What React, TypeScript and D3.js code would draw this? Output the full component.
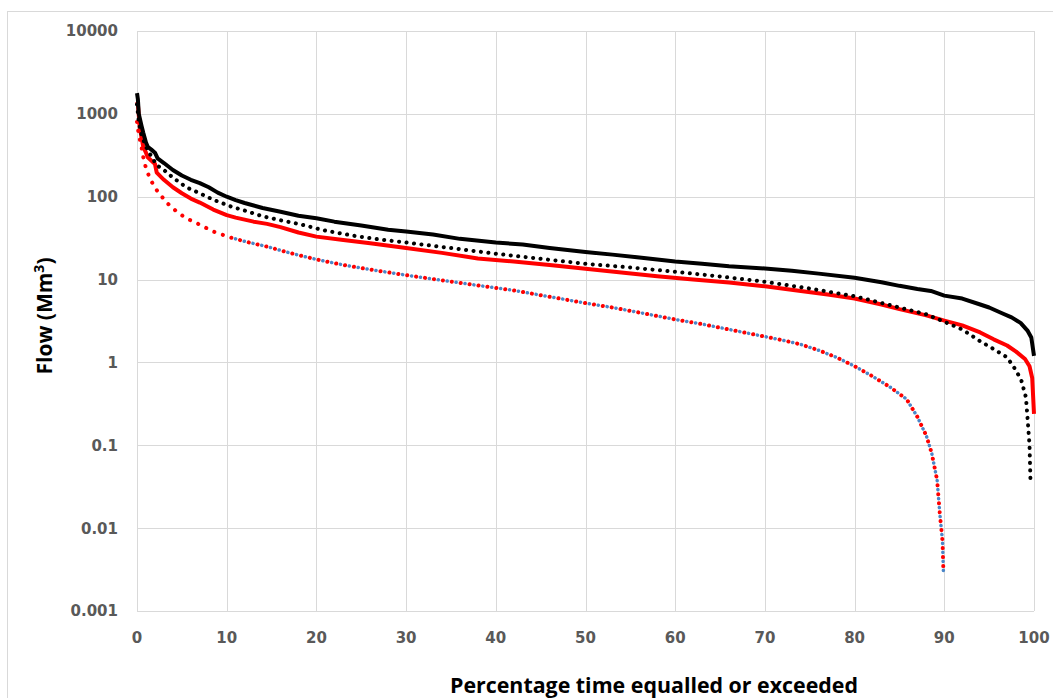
import React from "react";
import * as d3 from "d3";

// flow duration curves: [percentage time equalled or exceeded, flow Mm3]
const blackSolid: [number, number][] = [
  [0, 1780], [0.1, 1500], [0.2, 1000], [0.5, 720], [0.7, 590], [1.0, 450], [1.2, 400],
  [1.6, 370], [2.0, 340], [2.3, 290], [3.0, 255], [4.0, 210], [5.0, 180], [6.0, 160],
  [7.0, 146], [8.0, 130], [9.0, 112], [10, 100], [11, 91], [12, 84], [14, 73], [16, 66],
  [18, 59], [20, 55], [22, 50], [25, 45], [28, 40], [30, 38], [33, 35], [36, 31], [40, 28],
  [43, 26.5], [46, 24], [50, 21.5], [53, 20], [56, 18.5], [60, 16.5], [63, 15.5], [66, 14.5],
  [70, 13.6], [73, 12.8], [76, 11.8], [80, 10.5], [83, 9.3], [85, 8.4], [87, 7.7], [88.5, 7.3],
  [90, 6.4], [92, 5.9], [94, 5.0], [95, 4.6], [96.5, 3.9], [97.5, 3.5], [98.5, 3.0],
  [99.3, 2.4], [99.7, 2.0], [100, 1.2],
];

const blackDotted: [number, number][] = [
  [0, 1300], [0.2, 800], [0.5, 560], [1.0, 400], [1.5, 320], [2.2, 240], [3.0, 210],
  [4.0, 170], [5.5, 130], [7.0, 110], [8.5, 92], [10.5, 76], [12, 68], [14, 58], [16, 52],
  [18, 47], [21, 39], [24, 34], [27, 30.5], [30, 28], [35, 24], [40, 20.5], [45, 17.8],
  [50, 15.5], [55, 14], [60, 12.4], [65, 10.9], [70, 9.4], [75, 7.8], [80, 6.3], [85, 4.6],
  [88, 3.8], [90, 3.1], [92, 2.5], [94, 1.8], [95.5, 1.45], [97, 1.15], [98, 0.8],
  [98.6, 0.6], [99.1, 0.38], [99.3, 0.2], [99.5, 0.1], [99.6, 0.04],
];

const redSolid: [number, number][] = [
  [0, 1400], [0.1, 1300], [0.3, 700], [0.5, 520], [0.7, 400], [1.0, 340], [1.2, 300],
  [1.8, 260], [2.0, 250], [2.2, 195], [3.0, 160], [4.0, 130], [5.0, 110], [6.0, 95],
  [7.0, 85], [8.5, 70], [10, 60], [11, 56], [13, 50], [14.5, 47], [16, 43], [18, 37],
  [20, 33], [23, 30], [26, 27.5], [30, 24], [34, 21], [38, 18], [42, 16.5], [46, 15],
  [50, 13.5], [54, 12.2], [58, 11], [62, 10], [66, 9.2], [70, 8.3], [74, 7.3], [77, 6.6],
  [80, 5.9], [83, 5.0], [85, 4.4], [88, 3.7], [90, 3.2], [92, 2.8], [94, 2.3], [95.5, 1.9],
  [97, 1.6], [98, 1.35], [99, 1.1], [99.5, 0.9], [99.8, 0.65], [100, 0.24],
];

const redDotted: [number, number][] = [
  [0, 800], [0.2, 560], [0.5, 400], [0.7, 300], [1.0, 220], [1.5, 160], [2.2, 120],
  [3.3, 85], [4.5, 65], [5.5, 55], [7.0, 46], [8.5, 38], [10.5, 32], [12.5, 28],
  [14.5, 25], [17, 21], [20, 17.5], [23, 15], [26, 13.2], [30, 11.3], [34, 9.8], [38, 8.5],
  [42, 7.4], [46, 6.2], [50, 5.2], [53, 4.6], [56, 4.0], [60, 3.3], [63, 2.9], [66, 2.5],
  [70, 2.05], [72, 1.85], [74, 1.65], [76, 1.4], [78, 1.15], [80, 0.9], [82, 0.68],
  [84, 0.5], [85.8, 0.36], [87, 0.22], [88, 0.13], [88.6, 0.08], [89.2, 0.038],
  [89.5, 0.015], [89.8, 0.007], [89.9, 0.003],
];

// the blue series sits under the red dotted one and shows through from ~10%
const blueDotted = redDotted.filter((d) => d[0] >= 10);

const xTicks = [0, 10, 20, 30, 40, 50, 60, 70, 80, 90, 100];
const yTicks = [0.001, 0.01, 0.1, 1, 10, 100, 1000, 10000];
const yTickLabels = ["0.001", "0.01", "0.1", "1", "10", "100", "1000", "10000"];

const W = 1053;
const H = 698;
const left = 137;
const right = 1034;
const top = 31;
const bottom = 611;

export default function App() {
  const x = d3.scaleLinear().domain([0, 100]).range([left, right]);
  const y = d3.scaleLog().domain([0.001, 10000]).range([bottom, top]);
  const line = d3
    .line<[number, number]>()
    .x((d) => x(d[0]))
    .y((d) => y(d[1]));

  const labelFont = "'DejaVu Sans', sans-serif";
  const grid = "#d9d9d9";

  return (
    <svg
      width={W}
      height={H}
      style={{ position: "absolute", left: 0, top: 0, background: "#fff" }}
    >
      {/* chart border */}
      <rect x={7.5} y={11.5} width={1100} height={800} fill="none" stroke={grid} />

      {/* gridlines */}
      {yTicks.map((t) => (
        <line key={"h" + t} x1={left} x2={right} y1={Math.round(y(t)) + 0.5} y2={Math.round(y(t)) + 0.5} stroke={grid} />
      ))}
      {xTicks.map((t) => (
        <line key={"v" + t} x1={Math.round(x(t)) + 0.5} x2={Math.round(x(t)) + 0.5} y1={top} y2={bottom} stroke={grid} />
      ))}

      {/* y tick labels */}
      {yTicks.map((t, i) => (
        <text
          key={"yl" + t}
          x={118}
          y={y(t)}
          dy="0.36em"
          textAnchor="end"
          fontFamily={labelFont}
          fontWeight="bold"
          fontSize={15}
          fill="#595959"
        >
          {yTickLabels[i]}
        </text>
      ))}

      {/* x tick labels */}
      {xTicks.map((t) => (
        <text
          key={"xl" + t}
          x={x(t)}
          y={643}
          textAnchor="middle"
          fontFamily={labelFont}
          fontWeight="bold"
          fontSize={15}
          fill="#595959"
        >
          {t}
        </text>
      ))}

      {/* series */}
      <path
        d={line(blueDotted) ?? ""}
        fill="none"
        stroke="#4a86c8"
        strokeWidth={3.5}
        strokeLinecap="round"
        strokeDasharray="0.1 8.9"
        strokeDashoffset={-4.5}
      />
      <path
        d={line(redDotted) ?? ""}
        fill="none"
        stroke="#ff0000"
        strokeWidth={4}
        strokeLinecap="round"
        strokeDasharray="0.1 8.9"
      />
      <path
        d={line(redSolid) ?? ""}
        fill="none"
        stroke="#ff0000"
        strokeWidth={4}
        strokeLinejoin="round"
      />
      <path
        d={line(blackDotted) ?? ""}
        fill="none"
        stroke="#000"
        strokeWidth={4}
        strokeLinecap="round"
        strokeDasharray="0.1 7.4"
      />
      <path
        d={line(blackSolid) ?? ""}
        fill="none"
        stroke="#000"
        strokeWidth={4}
        strokeLinejoin="round"
      />

      {/* axis titles */}
      <text
        transform="translate(52,316) rotate(-90)"
        textAnchor="middle"
        fontFamily="'Open Sans', sans-serif"
        fontWeight="bold"
        fontSize={21}
        fill="#000"
      >
        Flow (Mm<tspan dy={-8} fontSize={14}>3</tspan>
        <tspan dy={8}>)</tspan>
      </text>
      <text
        x={654}
        y={693}
        textAnchor="middle"
        fontFamily="'Open Sans', sans-serif"
        fontWeight="bold"
        fontSize={21}
        textLength={408}
        lengthAdjust="spacingAndGlyphs"
        fill="#000"
      >
        Percentage time equalled or exceeded
      </text>
    </svg>
  );
}
